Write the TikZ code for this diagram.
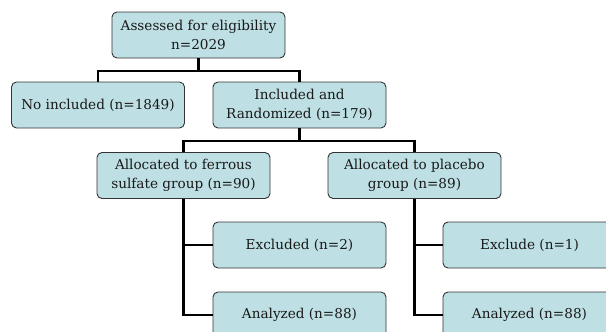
\documentclass[tikz,border=0pt]{standalone}
\usepackage{fontspec}
\setmainfont{DejaVu Serif}
\definecolor{boxfill}{HTML}{BEE0E4}
\definecolor{boxline}{HTML}{333333}
\begin{document}
\begin{tikzpicture}[x=1pt,y=-1pt,
  fbox/.style={draw=boxline, line width=0.9pt, fill=boxfill, rounded corners=5pt,
    minimum width=173pt, minimum height=46pt, align=center, inner sep=0pt,
    font=\fontsize{13.6}{18.5}\selectfont, text=black!90},
  conn/.style={line width=2.8pt, black, line join=miter}]
\useasboundingbox (0,0) rectangle (606,332);
\clip (0,0) rectangle (606,332);
\node[fbox] (top) at (198.5,35) {Assessed for eligibility\\n=2029};
\node[fbox] (noinc) at (98,105) {No included (n=1849)};
\node[fbox] (inc) at (299.5,105) {Included and\\Randomized (n=179)};
\node[fbox] (fer) at (183.5,175.5) {Allocated to ferrous\\sulfate group (n=90)};
\node[fbox] (pla) at (414.5,175.5) {Allocated to placebo\\group (n=89)};
\node[fbox] (exc1) at (299.5,245) {Excluded (n=2)};
\node[fbox] (ana1) at (299.5,315) {Analyzed (n=88)};
\node[fbox] (exc2) at (529.5,245) {Exclude (n=1)};
\node[fbox] (ana2) at (529.5,315) {Analyzed (n=88)};
\coordinate (j1) at (198.5,71);
\coordinate (j2) at (299.5,141);
\draw[conn] (top.south) -- (j1);
\draw[conn] (noinc.north) |- (j1) -| (inc.north);
\draw[conn] (inc.south) -- (j2);
\draw[conn] (fer.north) |- (j2) -| (pla.north);
\draw[conn] (fer.south) |- (ana1.west);
\draw[conn] (fer.south |- exc1.west) -- (exc1.west);
\draw[conn] (pla.south) |- (ana2.west);
\draw[conn] (pla.south |- exc2.west) -- (exc2.west);
\end{tikzpicture}
\end{document}
